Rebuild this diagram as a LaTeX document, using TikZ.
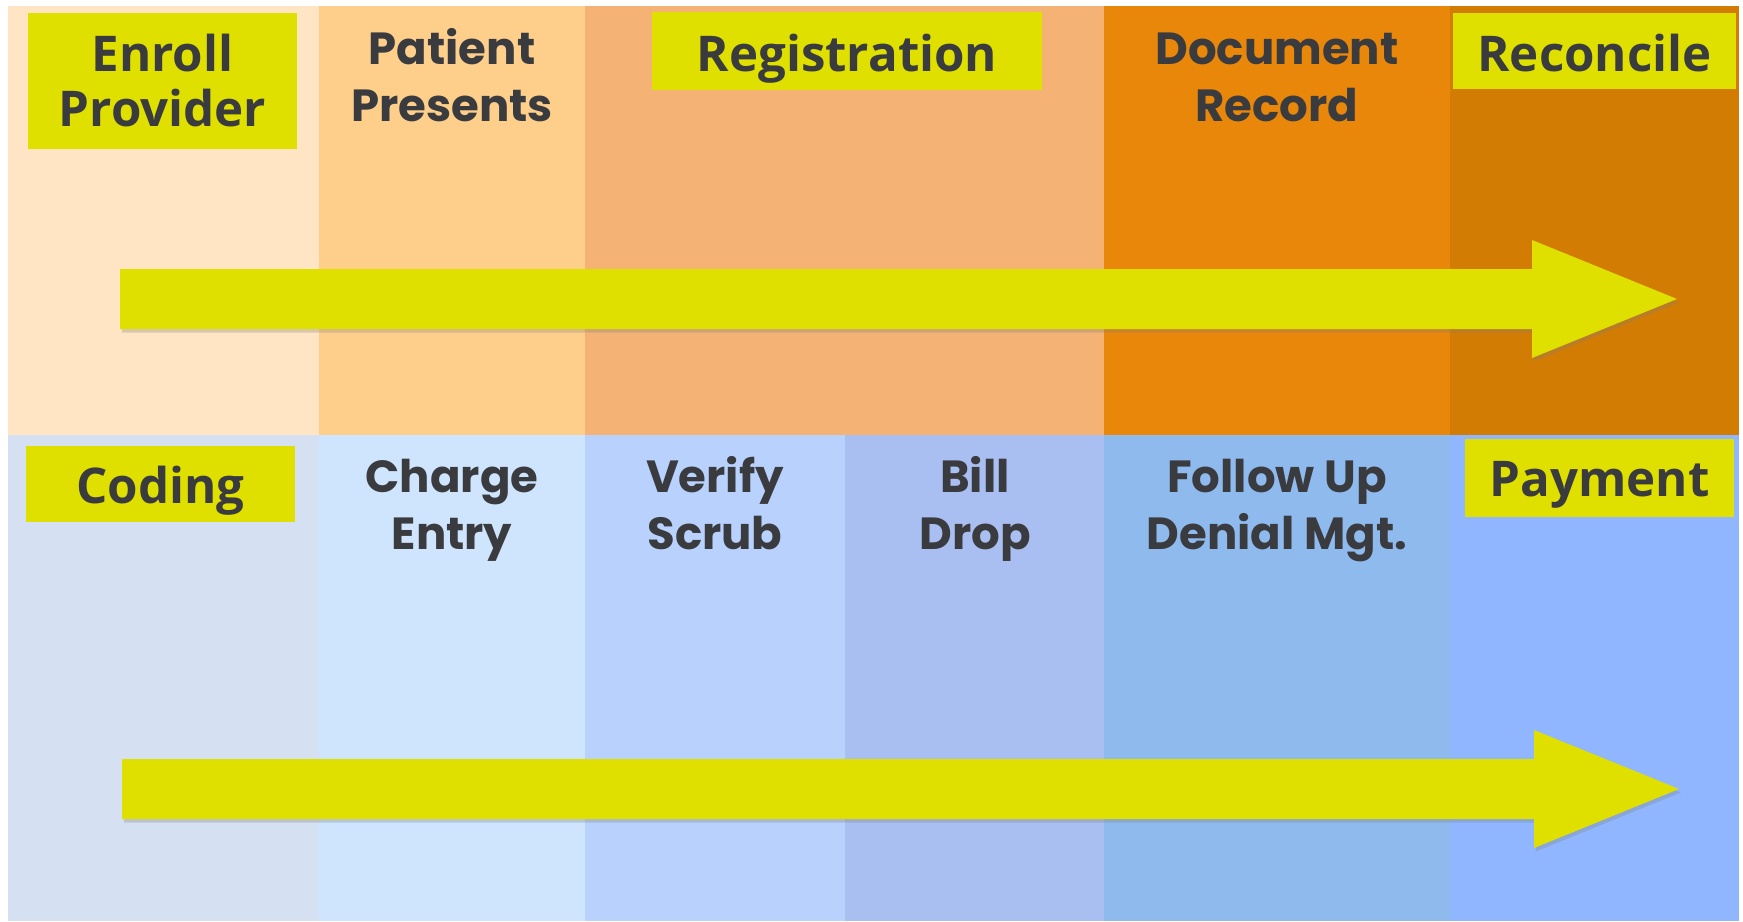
\documentclass[tikz,border=0pt]{standalone}
\usepackage{fontspec}
\setmainfont{Open Sans}
\newfontfamily\stagefont{Poppins}
\usetikzlibrary{shadows}
\definecolor{lanea}{HTML}{FFE5C4}
\definecolor{laneb}{HTML}{FECE8B}
\definecolor{lanec}{HTML}{F4B374}
\definecolor{laned}{HTML}{E8870A}
\definecolor{lanee}{HTML}{D37C03}
\definecolor{bluea}{HTML}{D5E0F2}
\definecolor{blueb}{HTML}{CFE5FD}
\definecolor{bluec}{HTML}{B9D1FD}
\definecolor{blued}{HTML}{AABFF1}
\definecolor{bluee}{HTML}{8FBAEE}
\definecolor{bluef}{HTML}{8FB6FE}
\definecolor{tagyellow}{HTML}{DFE000}
\definecolor{ink}{HTML}{3A3B3F}
\tikzset{
  tagbox/.style={rectangle,fill=tagyellow,inner sep=0pt},
  tagtext/.style={text=ink,align=center,inner sep=0pt,anchor=base,
    font=\bfseries\fontsize{14}{15.6}\selectfont},
  stagetext/.style={text=ink,align=center,inner sep=0pt,anchor=base,
    font=\stagefont\bfseries\fontsize{12.8}{16.2}\selectfont},
  flow/.style={fill=tagyellow,
    drop shadow={shadow xshift=0.5pt,shadow yshift=-1pt,opacity=0.3}}
}

\begin{document}
\begin{tikzpicture}[x=0.01cm,y=-0.01cm]

\useasboundingbox (0,0) rectangle (1743,921);
\fill[white] (0,0) rectangle (1743,921);

% Upper row of lanes
\foreach \xa/\xb/\c in {8/319/lanea, 319/585/laneb, 585/1104/lanec,
  1104/1450/laned, 1450/1739/lanee}
{
  \fill[\c] (\xa,6) rectangle (\xb,435);
}

% Lower row of lanes
\foreach \xa/\xb/\c in {8/319/bluea, 319/585/blueb, 585/845/bluec,
  845/1104/blued, 1104/1450/bluee, 1450/1739/bluef}
{
  \fill[\c] (\xa,435) rectangle (\xb,921);
}

% Highlighted steps (base anchor sits on the last line)
\node[tagbox,minimum width=2.69cm,minimum height=1.36cm] (enrollbox) at (162.5,81) {};
\node[tagbox,minimum width=3.90cm,minimum height=0.78cm] (regbox) at (847,51) {};
\node[tagbox,minimum width=2.83cm,minimum height=0.76cm] (reconbox) at (1594.5,51) {};
\node[tagbox,minimum width=2.69cm,minimum height=0.76cm] (codingbox) at (160.5,484) {};
\node[tagbox,minimum width=2.69cm,minimum height=0.78cm] (paybox) at (1599.5,478) {};

\node[tagtext] (enroll) at (162.5,126) {Enroll\\Provider};
\node[tagtext] (reg) at (847,71) {Registration};
\node[tagtext] (recon) at (1594.5,71) {Reconcile};
\node[tagtext] (coding) at (160.5,503) {Coding};
\node[tagtext] (pay) at (1599.5,496) {Payment};

% Plain steps
\node[stagetext] (patient) at (452,121) {Patient\\Presents};
\node[stagetext] (docrec) at (1277,121) {Document\\Record};
\node[stagetext] (charge) at (452,549) {Charge\\Entry};
\node[stagetext] (verify) at (715,549) {Verify\\Scrub};
\node[stagetext] (bill) at (975,549) {Bill\\Drop};
\node[stagetext] (follow) at (1277,549) {Follow Up\\Denial Mgt.};

% Block arrows along each row
\foreach \yc/\xs in {299/120, 789/122}
{
  \fill[flow] (\xs,\yc-30) -- (\xs+1412,\yc-30) -- (\xs+1412,\yc-59)
    -- (\xs+1557,\yc) -- (\xs+1412,\yc+59) -- (\xs+1412,\yc+30)
    -- (\xs,\yc+30) -- cycle;
}

\end{tikzpicture}
\end{document}
